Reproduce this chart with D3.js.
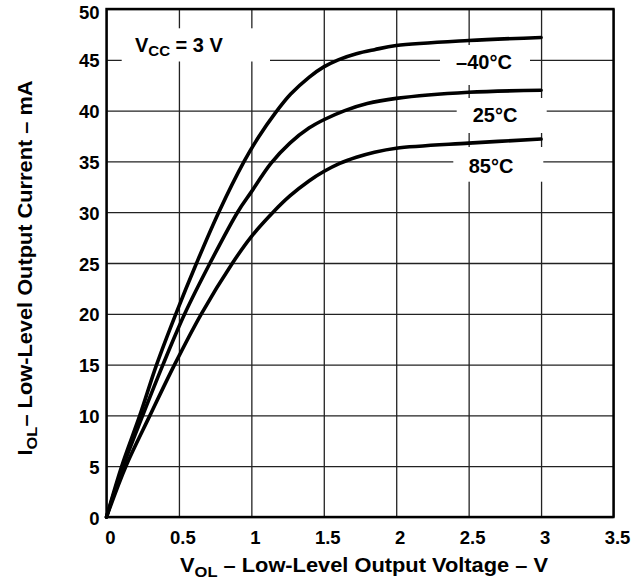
<!DOCTYPE html>
<html>
<head>
<meta charset="utf-8">
<script src="https://cdn.jsdelivr.net/npm/d3@7"></script>
<style>
  body { margin: 0; background: #fff; }
  svg text { font-family: "Liberation Sans", Arial, Helvetica, sans-serif; font-weight: bold; fill: #000; }
</style>
</head>
<body>
<div id="chart"></div>
<script>
// Curves: V_OL (V) against I_OL (mA)
const seriesNames = ["–40°C", "25°C", "85°C"];
const voltsM40 = [0, 0.105, 0.23, 0.346, 0.479, 0.622, 0.775, 0.95, 1.05, 1.162, 1.27, 1.4, 1.5, 1.6, 1.725, 1.85, 2.0, 2.5, 3.0];
const currM40  = [0, 5, 10, 15, 20, 25, 30, 35, 37.4, 39.7, 41.6, 43.3, 44.3, 45.0, 45.6, 46.0, 46.4, 46.9, 47.2];
const volts25  = [0, 0.115, 0.25, 0.39, 0.54, 0.715, 0.905, 1.0, 1.135, 1.266, 1.4, 1.5, 1.645, 1.8, 2.0, 2.5, 3.0];
const curr25   = [0, 5, 10, 15, 20, 25, 30, 32, 34.8, 36.8, 38.3, 39.1, 40.0, 40.7, 41.2, 41.8, 42.0];
const volts85  = [0, 0.134, 0.3, 0.47, 0.655, 0.87, 1.0, 1.15, 1.266, 1.4, 1.5, 1.61, 1.725, 1.85, 2.0, 2.5, 3.0];
const curr85   = [0, 5, 10, 15, 20, 25, 27.6, 30, 31.6, 33.1, 34.0, 34.8, 35.4, 35.9, 36.3, 36.8, 37.2];

const xTicks = [0, 0.5, 1, 1.5, 2, 2.5, 3, 3.5];
const yTicks = [0, 5, 10, 15, 20, 25, 30, 35, 40, 45, 50];

const margin = { top: 9, right: 28.5, bottom: 65, left: 106.5 };
const W = 642, H = 582;
const width = W - margin.left - margin.right;
const height = H - margin.top - margin.bottom;

const svg = d3.select("#chart").append("svg")
  .attr("width", W)
  .attr("height", H);

const g = svg.append("g")
  .attr("transform", `translate(${margin.left},${margin.top})`);

const x = d3.scaleLinear().domain([0, 3.5]).range([0, width]);
const y = d3.scaleLinear().domain([0, 50]).range([height, 0]);

// grid + tick labels
const xAxis = g.append("g")
  .attr("transform", `translate(0,${height})`)
  .call(d3.axisBottom(x).tickValues(xTicks).tickSize(-height).tickPadding(8).tickFormat(d3.format("")));
const yAxis = g.append("g")
  .call(d3.axisLeft(y).tickValues(yTicks).tickSize(-width).tickPadding(8));

[xAxis, yAxis].forEach(a => {
  a.select(".domain").remove();
  a.selectAll(".tick line").attr("stroke", "#222").attr("stroke-width", 1.3);
  a.selectAll(".tick text").style("font-size", "18.5px");
});
xAxis.selectAll(".tick text").attr("dx", 3.5).attr("dy", "1em");
yAxis.selectAll(".tick text").attr("dx", 1).attr("dy", d => d === 50 ? "0.52em" : "0.38em");

// white boxes behind the annotations (they break the grid)
const boxes = [
  { x0: 121.7, x1: 270, y0: 28.3, y1: 61.5 },
  { x0: 440, x1: 530, y0: 45, y1: 85 },
  { x0: 456.7, x1: 546.7, y0: 98, y1: 133 },
  { x0: 453.3, x1: 543.3, y0: 147, y1: 181.7 }
];
svg.selectAll("rect.box")
  .data(boxes)
  .enter().append("rect")
  .attr("class", "box")
  .attr("x", d => d.x0)
  .attr("y", d => d.y0)
  .attr("width", d => d.x1 - d.x0)
  .attr("height", d => d.y1 - d.y0)
  .attr("fill", "#fff");

// frame
g.append("rect")
  .attr("width", width)
  .attr("height", height)
  .attr("fill", "none")
  .attr("stroke", "#000")
  .attr("stroke-width", 2.4);

// curves
const curves = [
  d3.zip(voltsM40, currM40),
  d3.zip(volts25, curr25),
  d3.zip(volts85, curr85)
];
const line = d3.line()
  .x(d => x(d[0]))
  .y(d => y(d[1]))
  .curve(d3.curveCatmullRom.alpha(0.5));

g.selectAll("path.curve")
  .data(curves)
  .enter().append("path")
  .attr("class", "curve")
  .attr("d", line)
  .attr("fill", "none")
  .attr("stroke", "#000")
  .attr("stroke-width", 3.6)
  .attr("stroke-linecap", "round")
  .attr("stroke-linejoin", "round");

// temperature labels
const labelPos = [[484, 69.3], [495, 121.7], [491, 172.7]];
svg.selectAll("text.temp")
  .data(seriesNames)
  .enter().append("text")
  .attr("class", "temp")
  .attr("x", (d, i) => labelPos[i][0])
  .attr("y", (d, i) => labelPos[i][1])
  .attr("text-anchor", "middle")
  .style("font-size", "20px")
  .text(d => d);

// supply label
const vcc = svg.append("text")
  .attr("x", 135)
  .attr("y", 52.3)
  .style("font-size", "20px");
vcc.append("tspan").text("V");
vcc.append("tspan").attr("dy", 4).style("font-size", "15px").text("CC");
vcc.append("tspan").attr("dy", -4).text(" = 3 V");

// axis titles
const xt = svg.append("text")
  .attr("x", 364)
  .attr("y", 572)
  .attr("text-anchor", "middle")
  .attr("textLength", 368)
  .attr("lengthAdjust", "spacingAndGlyphs")
  .style("font-size", "20.5px");
xt.append("tspan").text("V");
xt.append("tspan").attr("dy", 5).style("font-size", "15.5px").text("OL");
xt.append("tspan").attr("dy", -5).text(" – Low-Level Output Voltage – V");

const yt = svg.append("text")
  .attr("transform", "translate(32,268) rotate(-90)")
  .attr("text-anchor", "middle")
  .attr("textLength", 375)
  .attr("lengthAdjust", "spacingAndGlyphs")
  .style("font-size", "20.5px");
yt.append("tspan").text("I");
yt.append("tspan").attr("dy", 5).style("font-size", "15.5px").text("OL");
yt.append("tspan").attr("dy", -5).text("– Low-Level Output Current – mA");
</script>
</body>
</html>
